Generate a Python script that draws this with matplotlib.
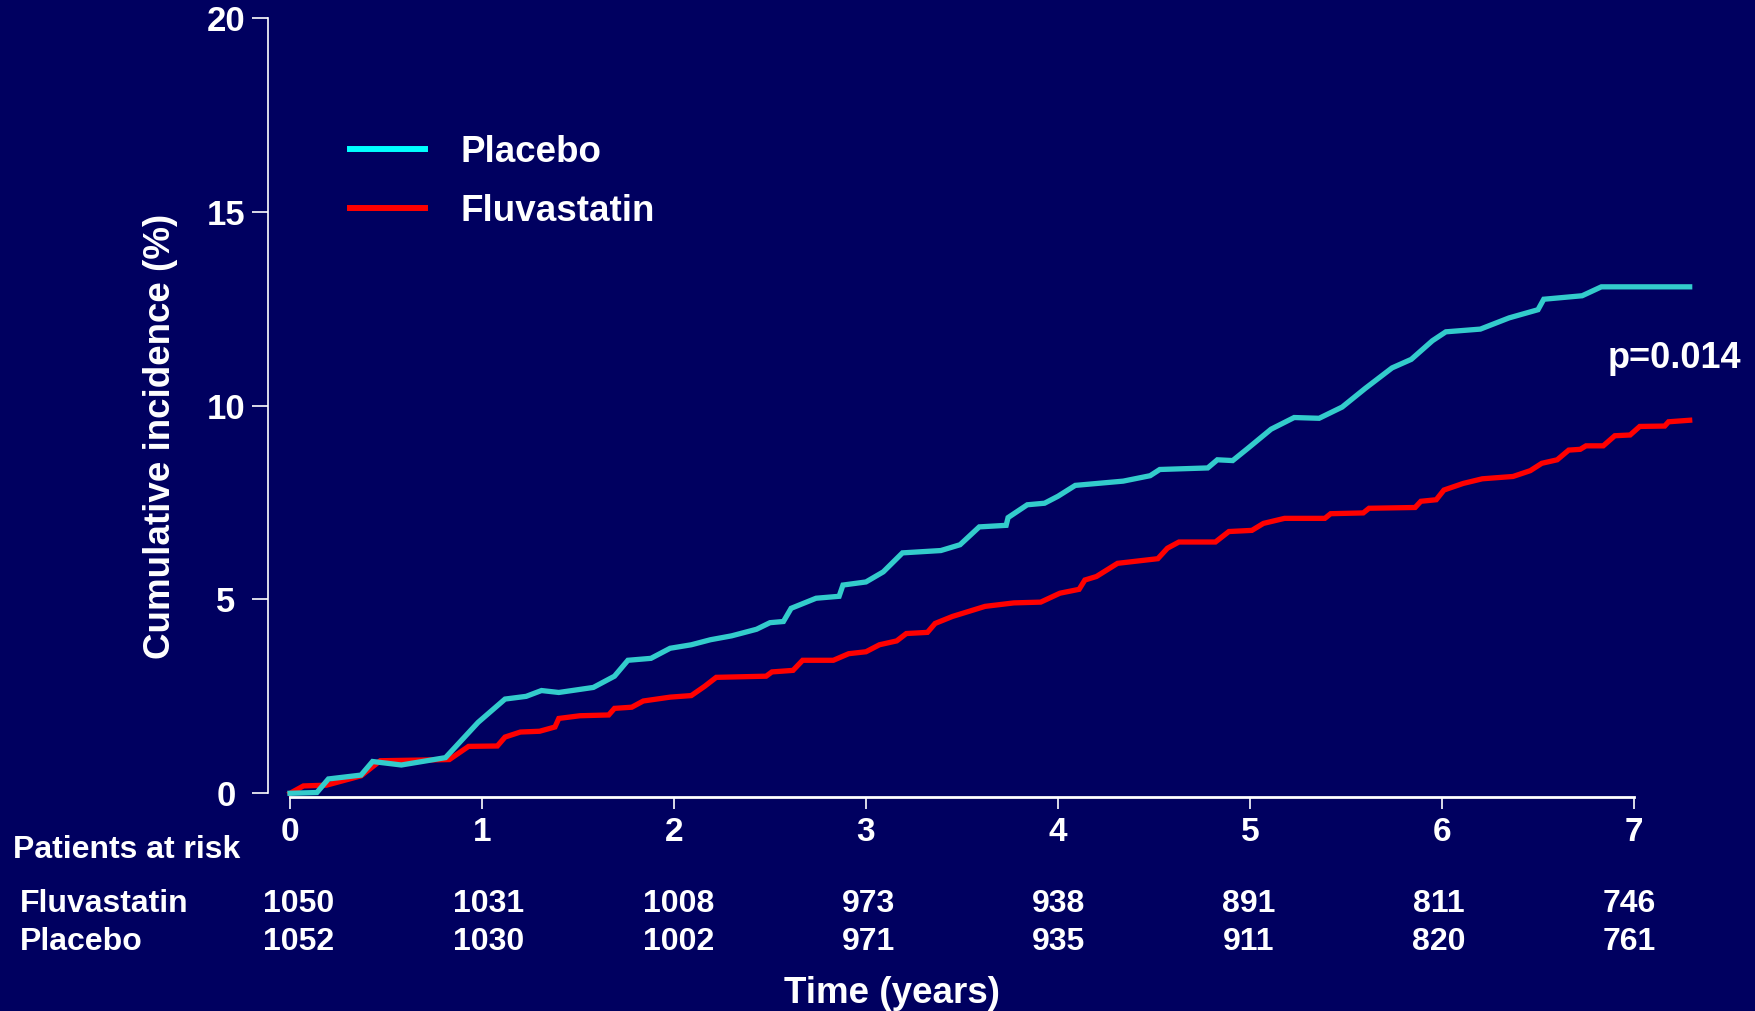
import matplotlib
matplotlib.use('Agg')
import matplotlib.pyplot as plt
from matplotlib.lines import Line2D
from matplotlib import transforms

plt.rcParams['font.family'] = ['Liberation Sans', 'DejaVu Sans']
plt.rcParams['font.weight'] = 'bold'

fondo = '#000060'
cian = '#33CCCC'
rojo = '#FF0000'

# curvas de incidencia acumulada (anios, %)
plac_t = [0, 0.14, 0.2, 0.37, 0.43, 0.58, 0.81, 0.98, 1.12, 1.23, 1.31, 1.4, 1.58, 1.69,
          1.76, 1.88, 1.98, 2.09, 2.19, 2.3, 2.43, 2.5, 2.57, 2.61, 2.74, 2.86, 2.88, 3.0,
          3.09, 3.19, 3.39, 3.49, 3.59, 3.73, 3.74, 3.84, 3.93, 4.0, 4.09, 4.34, 4.48, 4.53,
          4.78, 4.83, 4.91, 4.99, 5.11, 5.23, 5.36, 5.48, 5.6, 5.74, 5.84, 5.95, 6.02, 6.2,
          6.35, 6.5, 6.53, 6.73, 6.83, 7.29]
plac_y = [0, 0.02, 0.37, 0.47, 0.82, 0.73, 0.92, 1.83, 2.43, 2.5, 2.65, 2.6, 2.73, 3.02,
          3.43, 3.48, 3.74, 3.83, 3.96, 4.06, 4.23, 4.4, 4.43, 4.77, 5.03, 5.08, 5.37, 5.45,
          5.71, 6.2, 6.26, 6.41, 6.87, 6.91, 7.11, 7.44, 7.48, 7.66, 7.94, 8.05, 8.19, 8.35,
          8.39, 8.6, 8.58, 8.9, 9.39, 9.69, 9.67, 9.96, 10.44, 10.97, 11.19, 11.67, 11.9, 11.97,
          12.26, 12.47, 12.74, 12.83, 13.06, 13.06]

fluv_t = [0, 0.07, 0.19, 0.37, 0.47, 0.83, 0.93, 1.08, 1.12, 1.2, 1.3, 1.38, 1.4, 1.51,
          1.66, 1.69, 1.78, 1.84, 1.98, 2.09, 2.16, 2.22, 2.48, 2.51, 2.62, 2.67, 2.83, 2.91,
          3.0, 3.07, 3.16, 3.21, 3.32, 3.36, 3.45, 3.62, 3.77, 3.91, 4.01, 4.11, 4.14, 4.2,
          4.31, 4.52, 4.57, 4.63, 4.82, 4.89, 5.01, 5.07, 5.18, 5.39, 5.42, 5.59, 5.62, 5.86,
          5.89, 5.97, 6.01, 6.11, 6.21, 6.37, 6.46, 6.52, 6.6, 6.66, 6.72, 6.75, 6.84, 6.9,
          6.98, 7.03, 7.16, 7.18, 7.29]
fluv_y = [0, 0.19, 0.21, 0.45, 0.84, 0.87, 1.21, 1.22, 1.45, 1.58, 1.6, 1.71, 1.93, 2.0,
          2.02, 2.19, 2.22, 2.38, 2.48, 2.52, 2.76, 2.99, 3.02, 3.13, 3.17, 3.43, 3.43, 3.6,
          3.65, 3.83, 3.93, 4.12, 4.15, 4.38, 4.56, 4.82, 4.91, 4.93, 5.16, 5.26, 5.5, 5.59,
          5.93, 6.05, 6.32, 6.48, 6.48, 6.75, 6.78, 6.96, 7.09, 7.09, 7.21, 7.23, 7.35, 7.37,
          7.53, 7.57, 7.82, 7.99, 8.11, 8.17, 8.32, 8.51, 8.6, 8.85, 8.87, 8.96, 8.96, 9.22,
          9.24, 9.46, 9.47, 9.58, 9.62]

# pacientes en riesgo por anio
anios = [0, 1, 2, 3, 4, 5, 6, 7]
riesgo_fluv = [1050, 1031, 1008, 973, 938, 891, 811, 746]
riesgo_plac = [1052, 1030, 1002, 971, 935, 911, 820, 761]

fig = plt.figure(figsize=(17.55, 10.11), dpi=100, facecolor=fondo)
ax = fig.add_axes([0.16524, 0.21533, 0.83145, 0.76716], facecolor=fondo)

ax.plot(fluv_t, fluv_y, color=rojo, lw=3.8, clip_on=False, solid_joinstyle='miter')
ax.plot(plac_t, plac_y, color=cian, lw=3.8, clip_on=False, solid_joinstyle='miter')

ax.set_xlim(0, 7.6)
ax.set_ylim(0, 20)
ax.set_xticks(anios)
ax.set_yticks([0, 5, 10, 15, 20])

for s in ['top', 'right']:
    ax.spines[s].set_visible(False)
ax.spines['left'].set_color('white')
ax.spines['left'].set_linewidth(1.2)
ax.spines['left'].set_position(('outward', 16))
ax.spines['bottom'].set_color('white')
ax.spines['bottom'].set_linewidth(2)
ax.spines['bottom'].set_position(('outward', 2.5))
ax.spines['bottom'].set_bounds(0, 7)

ax.tick_params(axis='y', colors='white', length=11.5, width=1.2, pad=18.5, labelsize=25)
ax.tick_params(axis='x', colors='white', length=8.5, width=1.2, pad=6, labelsize=24)
for lab in ax.get_yticklabels():
    lab.set_horizontalalignment('center')

fig.text(0.0912, 0.568, 'Cumulative incidence (%)', rotation=90, ha='center', va='center',
         color='white', fontsize=26.5)
fig.text(0.508, 0.0079, 'Time (years)', ha='center', va='baseline', color='white', fontsize=26.5)

ax.text(6.865, 10.97, 'p=0.014', ha='left', va='baseline', color='white', fontsize=26)

manejadores = [Line2D([], [], color='#00FFFF', lw=4.3), Line2D([], [], color=rojo, lw=4.3)]
leg = ax.legend(manejadores, ['Placebo', 'Fluvastatin'], loc='upper left',
                bbox_to_anchor=(350 / 1755, 1 - 135 / 1011), bbox_transform=fig.transFigure,
                frameon=False, fontsize=26.5, handlelength=2.05, handletextpad=0.96,
                labelspacing=0.66, borderpad=0, borderaxespad=0)
for t in leg.get_texts():
    t.set_color('white')

# tabla de pacientes en riesgo (columnas algo mas juntas que los ticks)
trans = transforms.blended_transform_factory(ax.transData, fig.transFigure)
fig.text(0.0076, 0.151, 'Patients at risk', ha='left', va='baseline', color='white', fontsize=23)
fig.text(0.0114, 0.0982, 'Fluvastatin', ha='left', va='baseline', color='white', fontsize=23)
fig.text(0.0114, 0.0603, 'Placebo', ha='left', va='baseline', color='white', fontsize=23)
for a, nf, npl in zip(anios, riesgo_fluv, riesgo_plac):
    xc = a * 0.99 + 0.045
    ax.text(xc, 0.0982, str(nf), transform=trans, ha='center', va='baseline',
            color='white', fontsize=23, clip_on=False)
    ax.text(xc, 0.0603, str(npl), transform=trans, ha='center', va='baseline',
            color='white', fontsize=23, clip_on=False)

fig.savefig('out.png', dpi=100, facecolor=fondo)
